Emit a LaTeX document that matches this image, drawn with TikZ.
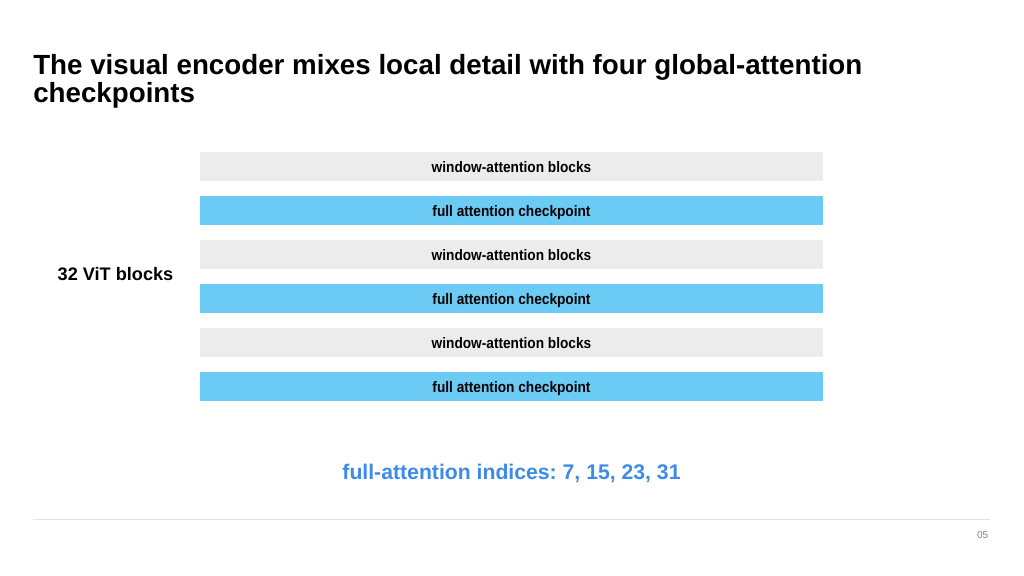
\documentclass[tikz,border=0pt]{standalone}
\usepackage{fontspec}
\setmainfont{Liberation Sans}
\newfontfamily\barfont[FakeStretch=0.9]{Liberation Sans}
\frenchspacing
\definecolor{wingray}{HTML}{ECECEC}
\definecolor{fullblue}{HTML}{6CCBF4}
\definecolor{idxblue}{HTML}{3D8BE8}
\definecolor{rulegray}{HTML}{E2E2E2}
\tikzset{
  winbar/.style={fill=wingray, minimum width=623*0.75pt, minimum height=29*0.75pt, inner sep=0pt, text height=10.5pt, text depth=1pt, font=\barfont\bfseries\fontsize{11.4}{13}\selectfont},
  fullbar/.style={winbar, fill=fullblue}
}

\begin{document}
\begin{tikzpicture}[x=0.75pt,y=-0.75pt]
      \useasboundingbox (0,0) rectangle (1024,575);
      \node[anchor=base west, align=left, inner sep=0pt, font=\bfseries\fontsize{20.8}{18.8}\selectfont] (title) at (33,102) {The visual encoder mixes local detail with four global-attention\\checkpoints};
      \node[winbar] (win1) at (511.5,166.5) {window-attention blocks};
      \node[fullbar] (full1) at (511.5,210.5) {full attention checkpoint};
      \node[winbar] (win2) at (511.5,254.5) {window-attention blocks};
      \node[fullbar] (full2) at (511.5,298.5) {full attention checkpoint};
      \node[winbar] (win3) at (511.5,342.5) {window-attention blocks};
      \node[fullbar] (full3) at (511.5,386.5) {full attention checkpoint};
      \node[font=\bfseries\fontsize{13.6}{16}\selectfont] (vit) at (115.5,274) {32 ViT blocks};
      %\draw (vit) -- (win2);
      \node[text=idxblue, font=\bfseries\fontsize{15.9}{19}\selectfont] (idx) at (511.5,473) {full-attention indices: 7, 15, 23, 31};
      \draw [rulegray] (33,519) -- (990,519);
      \node[anchor=east, text=gray, font=\fontsize{7.5}{9}\selectfont] (page) at (993,535) {05};
    \end{tikzpicture}
\end{document}
